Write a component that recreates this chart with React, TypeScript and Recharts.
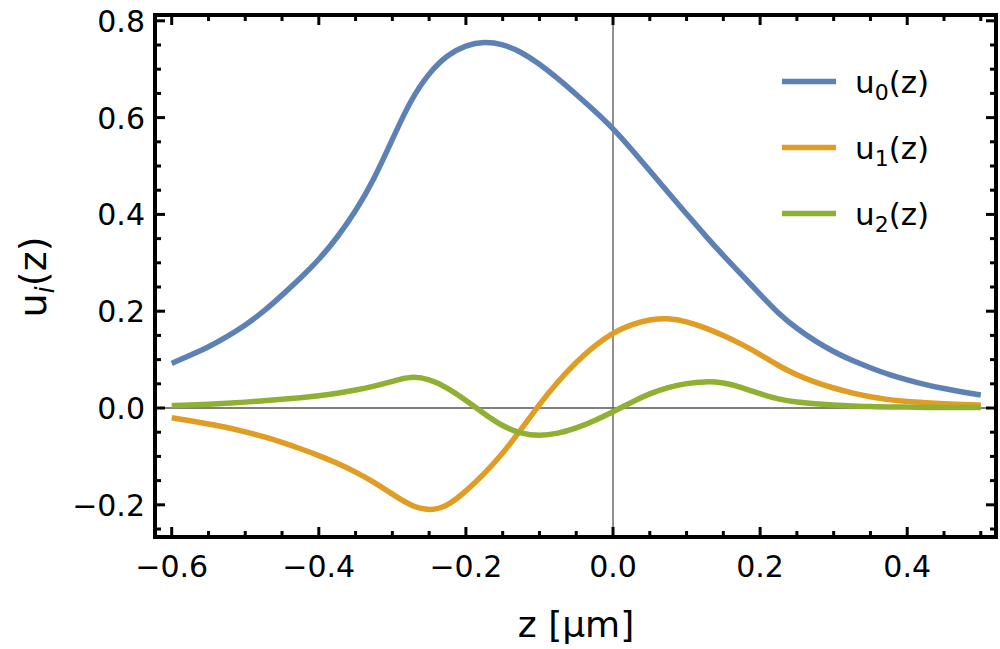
import { LineChart, Line, XAxis, YAxis, ReferenceLine } from 'recharts'

const zWerte = [
  -0.6, -0.575, -0.55, -0.525, -0.5, -0.475, -0.45, -0.425, -0.4, -0.375, -0.35, -0.325, -0.3, -0.275, -0.25,
  -0.225, -0.2, -0.175, -0.15, -0.125, -0.1, -0.075, -0.05, -0.025, 0, 0.025, 0.05, 0.075, 0.1, 0.125, 0.15,
  0.175, 0.2, 0.225, 0.25, 0.275, 0.3, 0.325, 0.35, 0.375, 0.4, 0.425, 0.45, 0.475, 0.5,
]
const u0 = [
  0.092, 0.109, 0.126, 0.147, 0.171, 0.199, 0.233, 0.268, 0.306, 0.352, 0.406, 0.472, 0.555, 0.637, 0.693,
  0.73, 0.75, 0.757, 0.752, 0.736, 0.711, 0.681, 0.648, 0.614, 0.578, 0.535, 0.49, 0.445, 0.401, 0.357, 0.315,
  0.275, 0.235, 0.195, 0.164, 0.138, 0.116, 0.098, 0.083, 0.069, 0.058, 0.048, 0.04, 0.033, 0.027,
]
const u1 = [
  -0.02, -0.026, -0.033, -0.04, -0.049, -0.059, -0.071, -0.084, -0.098, -0.114, -0.132, -0.153, -0.178, -0.202, -0.213,
  -0.203, -0.172, -0.136, -0.094, -0.045, 0.008, 0.055, 0.095, 0.129, 0.156, 0.173, 0.183, 0.186, 0.179, 0.166, 0.15,
  0.132, 0.111, 0.087, 0.068, 0.053, 0.041, 0.031, 0.023, 0.017, 0.013, 0.011, 0.009, 0.007, 0.006,
]
const u2 = [
  0.005, 0.006, 0.008, 0.01, 0.012, 0.015, 0.018, 0.021, 0.025, 0.03, 0.037, 0.045, 0.055, 0.066, 0.06,
  0.042, 0.016, -0.012, -0.038, -0.053, -0.058, -0.053, -0.042, -0.026, -0.008, 0.012, 0.03, 0.043, 0.051, 0.055, 0.053,
  0.043, 0.029, 0.018, 0.012, 0.009, 0.006, 0.004, 0.003, 0.002, 0.002, 0.001, 0.001, 0.001, 0.001,
]

const xTicks = [
  -0.6, -0.55, -0.5, -0.45, -0.4, -0.35, -0.3, -0.25, -0.2, -0.15, -0.1, -0.05, 0, 0.05, 0.1, 0.15, 0.2, 0.25,
  0.3, 0.35, 0.4, 0.45, 0.5,
]
const yTicks = [
  -0.25, -0.2, -0.15, -0.1, -0.05, 0, 0.05, 0.1, 0.15, 0.2, 0.25, 0.3, 0.35, 0.4, 0.45, 0.5, 0.55, 0.6, 0.65,
  0.7, 0.75, 0.8,
]

const serien = [
  { key: 'u0', sub: '0', farbe: '#5E81B5' },
  { key: 'u1', sub: '1', farbe: '#E19C24' },
  { key: 'u2', sub: '2', farbe: '#8FB032' },
]

const FONT = "'DejaVu Sans', sans-serif"
const X_DOMAIN = [-0.6227, 0.5207]
const Y_DOMAIN = [-0.2665, 0.812]

const data = zWerte.map((z, i) => ({ z, u0: u0[i], u1: u1[i], u2: u2[i] }))

const istMajor = (v: number) => Math.abs(v / 0.2 - Math.round(v / 0.2)) < 1e-6
const fmt = (v: number) => (v < -1e-9 ? '\u2212' : '') + Math.abs(v).toFixed(1)

function UntenTick({ x, y, payload }: any) {
  const major = istMajor(payload.value)
  return (
    <g>
      <line x1={x} y1={y} x2={x} y2={y - (major ? 10 : 6)} stroke="#000" strokeWidth={3} />
      {major && (
        <text x={x} y={y + 40} textAnchor="middle" fontSize={30} fontFamily={FONT} fill="#000">
          {fmt(payload.value)}
        </text>
      )}
    </g>
  )
}

function ObenTick({ x, y, payload }: any) {
  const major = istMajor(payload.value)
  return <line x1={x} y1={y} x2={x} y2={y + (major ? 10 : 6)} stroke="#000" strokeWidth={3} />
}

function LinksTick({ x, y, payload }: any) {
  const major = istMajor(payload.value)
  return (
    <g>
      <line x1={x} y1={y} x2={x + (major ? 10 : 6)} y2={y} stroke="#000" strokeWidth={3} />
      {major && (
        <text x={x - 10} y={y + 11} textAnchor="end" fontSize={30} fontFamily={FONT} fill="#000">
          {fmt(payload.value)}
        </text>
      )}
    </g>
  )
}

function RechtsTick({ x, y, payload }: any) {
  const major = istMajor(payload.value)
  return <line x1={x} y1={y} x2={x - (major ? 10 : 6)} y2={y} stroke="#000" strokeWidth={3} />
}

const rahmen = { stroke: '#000', strokeWidth: 4, strokeLinecap: 'square' as const }

export default function App() {
  return (
    <div style={{ position: 'fixed', left: 0, top: 0, width: 1000, height: 649, background: '#fff' }}>
      <LineChart width={1000} height={649} data={data} margin={{ top: 14, right: 3, bottom: 0, left: 0 }}>
        <XAxis
          dataKey="z"
          type="number"
          domain={X_DOMAIN}
          allowDataOverflow
          ticks={xTicks}
          interval={0}
          height={112}
          tickSize={0}
          tickMargin={0}
          axisLine={rahmen}
          tick={(p: any) => <UntenTick {...p} />}
        />
        <XAxis
          xAxisId="oben"
          orientation="top"
          dataKey="z"
          type="number"
          domain={X_DOMAIN}
          allowDataOverflow
          ticks={xTicks}
          interval={0}
          height={1}
          tickSize={0}
          tickMargin={0}
          axisLine={rahmen}
          tick={(p: any) => <ObenTick {...p} />}
        />
        <YAxis
          type="number"
          domain={Y_DOMAIN}
          allowDataOverflow
          ticks={yTicks}
          interval={0}
          width={155}
          tickSize={0}
          tickMargin={0}
          axisLine={rahmen}
          tick={(p: any) => <LinksTick {...p} />}
        />
        <YAxis
          yAxisId="rechts"
          orientation="right"
          type="number"
          domain={Y_DOMAIN}
          allowDataOverflow
          ticks={yTicks}
          interval={0}
          width={1}
          tickSize={0}
          tickMargin={0}
          axisLine={rahmen}
          tick={(p: any) => <RechtsTick {...p} />}
        />
        <ReferenceLine x={0} stroke="#555" strokeWidth={1.3} />
        <ReferenceLine y={0} stroke="#555" strokeWidth={1.3} />
        {serien.map((s) => (
          <Line
            key={s.key}
            dataKey={s.key}
            type="basis"
            stroke={s.farbe}
            strokeWidth={5.5}
            strokeLinejoin="round"
            dot={false}
            activeDot={false}
            isAnimationActive={false}
          />
        ))}
      </LineChart>
      <svg
        width={1000}
        height={649}
        style={{ position: 'absolute', left: 0, top: 0, pointerEvents: 'none' }}
        fontFamily={FONT}
      >
        <text x={576} y={637} textAnchor="middle" fontSize={36} fill="#000">
          z [μm]
        </text>
        <text x={46} y={277} transform="rotate(-90 46 277)" textAnchor="middle" fontSize={38} fill="#000">
          u
          <tspan fontSize={26} fontStyle="italic" dy={8}>
            i
          </tspan>
          <tspan dy={-8}>(z)</tspan>
        </text>
        {serien.map((s, i) => {
          const ly = 81.5 + i * 66
          return (
            <g key={s.key}>
              <line x1={782} y1={ly} x2={836} y2={ly} stroke={s.farbe} strokeWidth={5.5} />
              <text x={855} y={ly + 11} fontSize={31} fill="#000">
                u
                <tspan fontSize={22} dy={7}>
                  {s.sub}
                </tspan>
                <tspan dy={-7}>(z)</tspan>
              </text>
            </g>
          )
        })}
      </svg>
    </div>
  )
}
